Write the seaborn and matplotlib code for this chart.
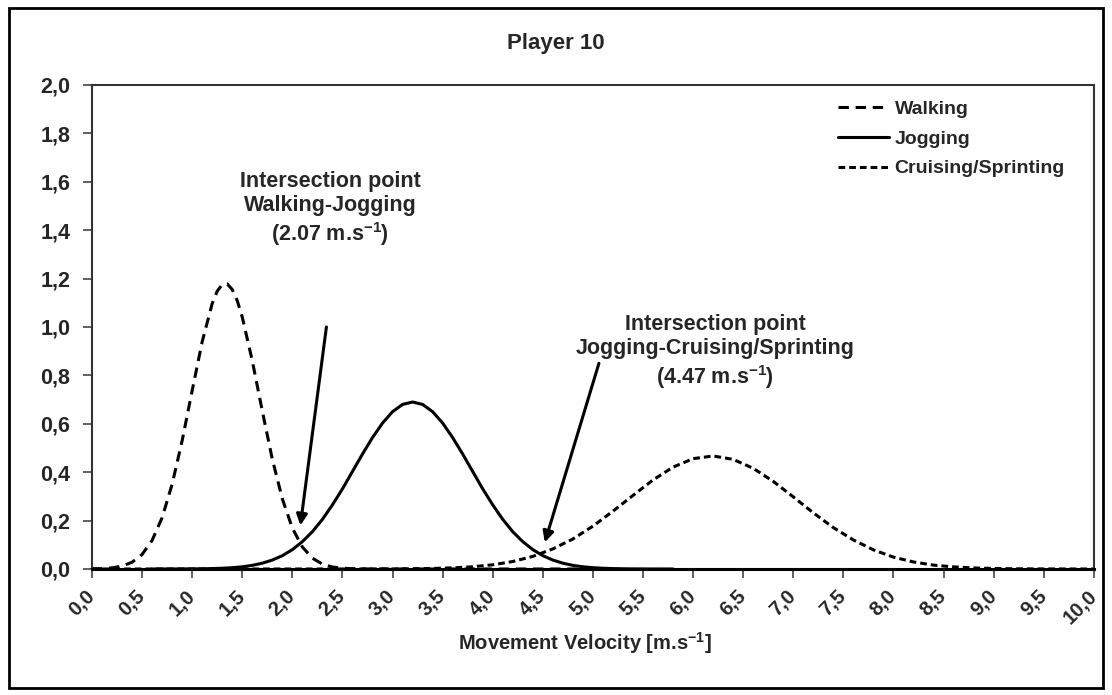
import matplotlib
matplotlib.use('Agg')
import matplotlib.pyplot as plt
import seaborn as sns
from matplotlib.patches import Rectangle
from matplotlib.ticker import FuncFormatter, MultipleLocator

# Walking curve
walk_x = [0.0, 0.1, 0.2, 0.3, 0.4, 0.5, 0.6, 0.7, 0.8, 0.9, 1.0, 1.1, 1.2, 1.25, 1.3,
          1.35, 1.4, 1.45, 1.5, 1.6, 1.7, 1.8, 1.9, 2.0, 2.1, 2.2, 2.3, 2.4, 2.5,
          2.6, 2.7, 2.8, 3.0, 4.0, 5.0]
walk_y = [0.0006, 0.0017, 0.0047, 0.012, 0.028, 0.060, 0.118, 0.212, 0.350, 0.530,
          0.737, 0.939, 1.097, 1.148, 1.175, 1.178, 1.155, 1.109, 1.041, 0.861,
          0.653, 0.454, 0.290, 0.169, 0.091, 0.045, 0.020, 0.0083, 0.0032, 0.0011,
          0.0004, 0.0001, 0.0, 0.0, 0.0]

# Jogging curve
jog_x = [0.6, 0.7, 0.8, 0.9, 1.0, 1.1, 1.2, 1.3, 1.4, 1.5, 1.6, 1.7, 1.8, 1.9,
         2.0, 2.1, 2.2, 2.3, 2.4, 2.5, 2.6, 2.7, 2.8, 2.9, 3.0, 3.1, 3.2, 3.3,
         3.4, 3.5, 3.6, 3.7, 3.8, 3.9, 4.0, 4.1, 4.2, 4.3, 4.4, 4.5, 4.6, 4.7,
         4.8, 4.9, 5.0, 5.1, 5.2, 5.3, 5.4, 5.5, 5.6, 5.7, 5.8]
jog_y = [0.0, 0.0001, 0.0001, 0.0003, 0.0005, 0.0009, 0.0017, 0.0031, 0.0054, 0.0091,
         0.015, 0.024, 0.037, 0.055, 0.080, 0.113, 0.154, 0.205, 0.265, 0.331,
         0.403, 0.475, 0.543, 0.603, 0.650, 0.680, 0.690, 0.680, 0.650, 0.603,
         0.543, 0.475, 0.403, 0.331, 0.265, 0.205, 0.154, 0.113, 0.080, 0.055,
         0.037, 0.024, 0.015, 0.0091, 0.0054, 0.0031, 0.0017, 0.0009, 0.0005,
         0.0003, 0.0001, 0.0001, 0.0]

# Cruising/Sprinting curve
cruise_x = [0.0, 1.0, 2.0, 2.6, 2.8, 3.0, 3.2, 3.4, 3.6, 3.8, 4.0, 4.2, 4.4, 4.6,
            4.8, 5.0, 5.2, 5.4, 5.6, 5.8, 6.0, 6.2, 6.4, 6.6, 6.8, 7.0, 7.2, 7.4,
            7.6, 7.8, 8.0, 8.2, 8.4, 8.6, 8.8, 9.0, 9.2, 9.4, 9.6, 9.8, 10.0]
cruise_y = [0.0, 0.0, 0.0, 0.0001, 0.0002, 0.0004, 0.0010, 0.0022, 0.0047, 0.0093,
            0.0174, 0.031, 0.052, 0.083, 0.124, 0.177, 0.239, 0.304, 0.368, 0.421,
            0.456, 0.467, 0.453, 0.416, 0.362, 0.298, 0.232, 0.171, 0.120, 0.079,
            0.049, 0.029, 0.016, 0.0087, 0.0044, 0.0021, 0.0009, 0.0004, 0.0002,
            0.0001, 0.0]

sns.set_style('white')
plt.rcParams['font.family'] = ['Liberation Sans', 'DejaVu Sans']
plt.rcParams['font.weight'] = 'bold'
plt.rcParams['mathtext.fontset'] = 'custom'
plt.rcParams['mathtext.bf'] = 'Liberation Sans:bold'
plt.rcParams['mathtext.rm'] = 'Liberation Sans:bold'
plt.rcParams['mathtext.default'] = 'bf'

fig = plt.figure(figsize=(11.12, 6.95), dpi=100)
ax = fig.add_axes([0.0827, 0.1813, 0.901, 0.6964])

lw = 2.2
sns.lineplot(x=walk_x, y=walk_y, ax=ax, color='black', lw=lw,
             linestyle=(0, (3.4, 2.2)), label='Walking')
sns.lineplot(x=jog_x, y=jog_y, ax=ax, color='black', lw=lw,
             linestyle='-', label='Jogging')
sns.lineplot(x=cruise_x, y=cruise_y, ax=ax, color='black', lw=lw,
             linestyle=(0, (2.2, 1.3)), label='Cruising/Sprinting')

ax.set_xlim(0, 10)
ax.set_ylim(0, 2.0)
ax.xaxis.set_major_locator(MultipleLocator(0.5))
ax.yaxis.set_major_locator(MultipleLocator(0.2))
comma = FuncFormatter(lambda v, p: f"{v:.1f}".replace('.', ','))
ax.xaxis.set_major_formatter(comma)
ax.yaxis.set_major_formatter(comma)

ax.tick_params(axis='both', which='major', direction='out', length=6.5, width=1.2,
               color='#444444', bottom=True, left=True)
ax.tick_params(axis='y', pad=9, labelsize=15.5)
ax.tick_params(axis='x', pad=11, labelsize=14.5)
for lab in ax.get_xticklabels():
    lab.set_rotation(45)
    lab.set_ha('right')
    lab.set_va('center')
    lab.set_rotation_mode('anchor')
    lab.set_fontweight('bold')
for lab in ax.get_yticklabels():
    lab.set_fontweight('bold')

for side in ['left', 'top', 'right']:
    ax.spines[side].set_color('#333333')
    ax.spines[side].set_linewidth(1.5)
ax.spines['bottom'].set_color('black')
ax.spines['bottom'].set_linewidth(2.2)

ax.set_xlabel('Movement Velocity [m.s$^{-1}$]', fontsize=14.5, fontweight='bold')
ax.xaxis.set_label_coords(0.492, -0.126)
ax.set_ylabel('')

fig.text(0.5, 0.938, 'Player 10', ha='center', va='center', fontsize=16, fontweight='bold')

ax.text(2.38, 1.645, 'Intersection point\nWalking-Jogging\n(2.07 m.s$^{-1}$)',
        ha='center', va='top', fontsize=15.5, fontweight='bold', linespacing=1.2)
ax.text(6.22, 1.055, 'Intersection point\nJogging-Cruising/Sprinting\n(4.47 m.s$^{-1}$)',
        ha='center', va='top', fontsize=15.5, fontweight='bold', linespacing=1.2)

arrow = dict(arrowstyle='-|>', color='black', lw=2.2, mutation_scale=16, shrinkA=0, shrinkB=0)
ax.annotate('', xy=(2.08, 0.18), xytext=(2.34, 1.0), arrowprops=arrow)
ax.annotate('', xy=(4.52, 0.11), xytext=(5.06, 0.85), arrowprops=arrow)

leg = ax.legend(loc='upper right', bbox_to_anchor=(0.971, 0.968), frameon=False,
                prop={'weight': 'bold', 'size': 14}, handlelength=2.6,
                handletextpad=0.3, labelspacing=0.62, borderpad=0, borderaxespad=0)

fig.add_artist(Rectangle((0.0081, 0.0101), 0.9838, 0.9784, transform=fig.transFigure,
                         fill=False, lw=2, ec='black'))

fig.savefig('out.png', dpi=100)
